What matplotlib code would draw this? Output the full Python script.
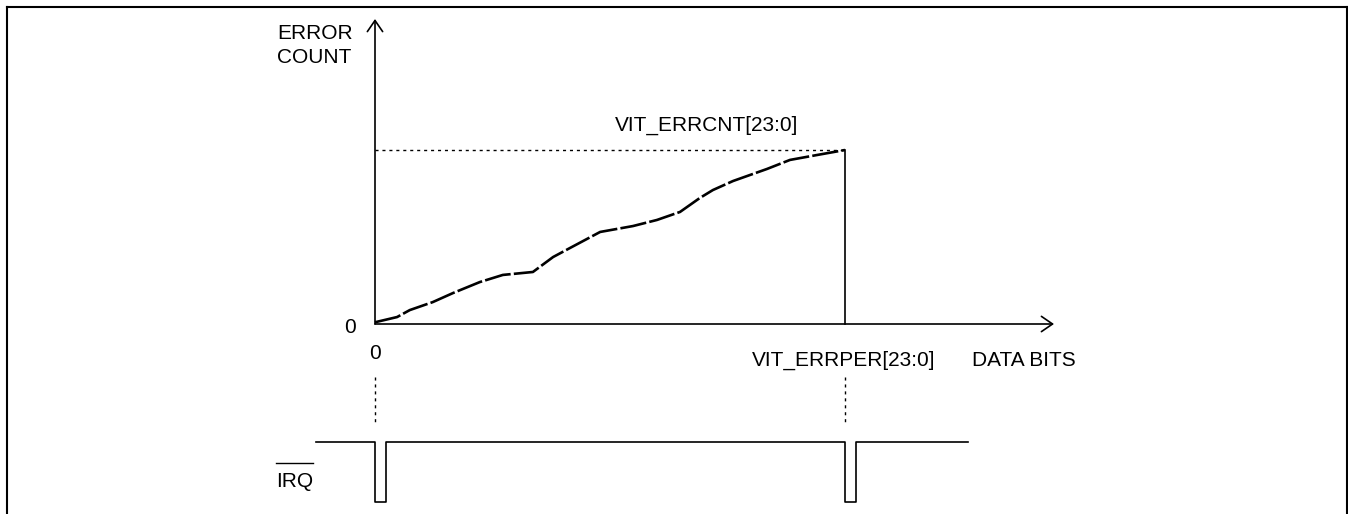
import matplotlib.pyplot as plt
from matplotlib.patches import FancyArrowPatch
from matplotlib.lines import Line2D

plt.rcParams['font.family'] = ['Liberation Sans', 'DejaVu Sans']
plt.rcParams['font.size'] = 15

# error count vs. data bits, as fractions of VIT_ERRPER (x) and VIT_ERRCNT (y)
bits = [0.0, 0.047, 0.074, 0.123, 0.166, 0.223, 0.272, 0.336, 0.379, 0.415,
        0.479, 0.549, 0.600, 0.649, 0.691, 0.719, 0.762, 0.834, 0.883, 0.940, 1.0]
errors = [0.01, 0.040, 0.080, 0.126, 0.178, 0.241, 0.282, 0.299, 0.385, 0.437,
          0.529, 0.563, 0.598, 0.644, 0.724, 0.770, 0.822, 0.891, 0.943, 0.971, 1.0]

# IRQ goes low for a short time at the start of every error period
irq_pulses = [0.0, 1.0]
pulse_width = 0.024

# layout, in pixels of the 1348x514 picture
W, H = 1348, 514
X0, Y0 = 375, 324   # origin of the graph
SX, SY = 470, 174   # pixels for one full period / full count

fig = plt.figure(figsize=(W / 100, H / 100), dpi=100)
ax = fig.add_axes([0, 0, 1, 1])
ax.set_xlim(-X0 / SX, (W - X0) / SX)
ax.set_ylim((Y0 - H) / SY, Y0 / SY)
ax.axis('off')


def px(x, y):
    return (x - X0) / SX, (Y0 - y) / SY


# outer frame
for (xa, ya), (xb, yb) in [((6.5, 520), (6.5, 7)), ((6.5, 7), (1346.5, 7)),
                           ((1346.5, 7), (1346.5, 520))]:
    fig.add_artist(Line2D([xa / W, xb / W], [1 - ya / H, 1 - yb / H],
                          color='black', lw=1.5, transform=fig.transFigure))

# axes with open arrow heads
for end in [(375, 19), (1054, 324)]:
    ax.add_patch(FancyArrowPatch(px(375, 324), px(*end),
                                 arrowstyle='->,head_length=0.8,head_width=0.55',
                                 mutation_scale=10, lw=1.2, color='black',
                                 shrinkA=0, shrinkB=0))

# the count curve
ax.plot(bits, errors, color='black', lw=1.9, dashes=(10, 1.2), solid_capstyle='butt')

# VIT_ERRCNT level and end of period
ax.plot([0, bits[-1]], [errors[-1], errors[-1]], color='black', lw=1.0, dashes=(2.2, 2.8))
ax.plot([bits[-1], bits[-1]], [0, errors[-1]], color='black', lw=1.2)

# dotted guides down to the IRQ line
y_top, y_bot = px(0, 377)[1], px(0, 425)[1]
for p in irq_pulses:
    ax.plot([p, p], [y_top, y_bot], color='black', lw=1.0, dashes=(2.2, 2.8))

# IRQ waveform
hi, lo = px(0, 441.5)[1], px(0, 502)[1]
xs, ys = [px(316, 0)[0]], [hi]
for p in irq_pulses:
    xs += [p, p, p + pulse_width, p + pulse_width]
    ys += [hi, lo, lo, hi]
xs.append(px(968, 0)[0])
ys.append(hi)
ax.plot(xs, ys, color='black', lw=1.2)

# texts
ax.text(*px(277, 39), 'ERROR', ha='left', va='baseline')
ax.text(*px(277, 63), 'COUNT', ha='left', va='baseline')
ax.text(*px(350, 333), '0', ha='center', va='baseline')
ax.text(*px(375, 359), '0', ha='center', va='baseline')
ax.text(*px(707, 131), 'VIT_ERRCNT[23:0]', ha='center', va='baseline')
ax.text(*px(844, 366), 'VIT_ERRPER[23:0]', ha='center', va='baseline')
ax.text(*px(972, 366), 'DATA BITS', ha='left', va='baseline')
ax.text(*px(313, 487), 'IRQ', ha='right', va='baseline')
ax.plot([px(276, 0)[0], px(313, 0)[0]], [px(0, 463)[1]] * 2, color='black', lw=1.0)

fig.savefig('out.png', dpi=100)
